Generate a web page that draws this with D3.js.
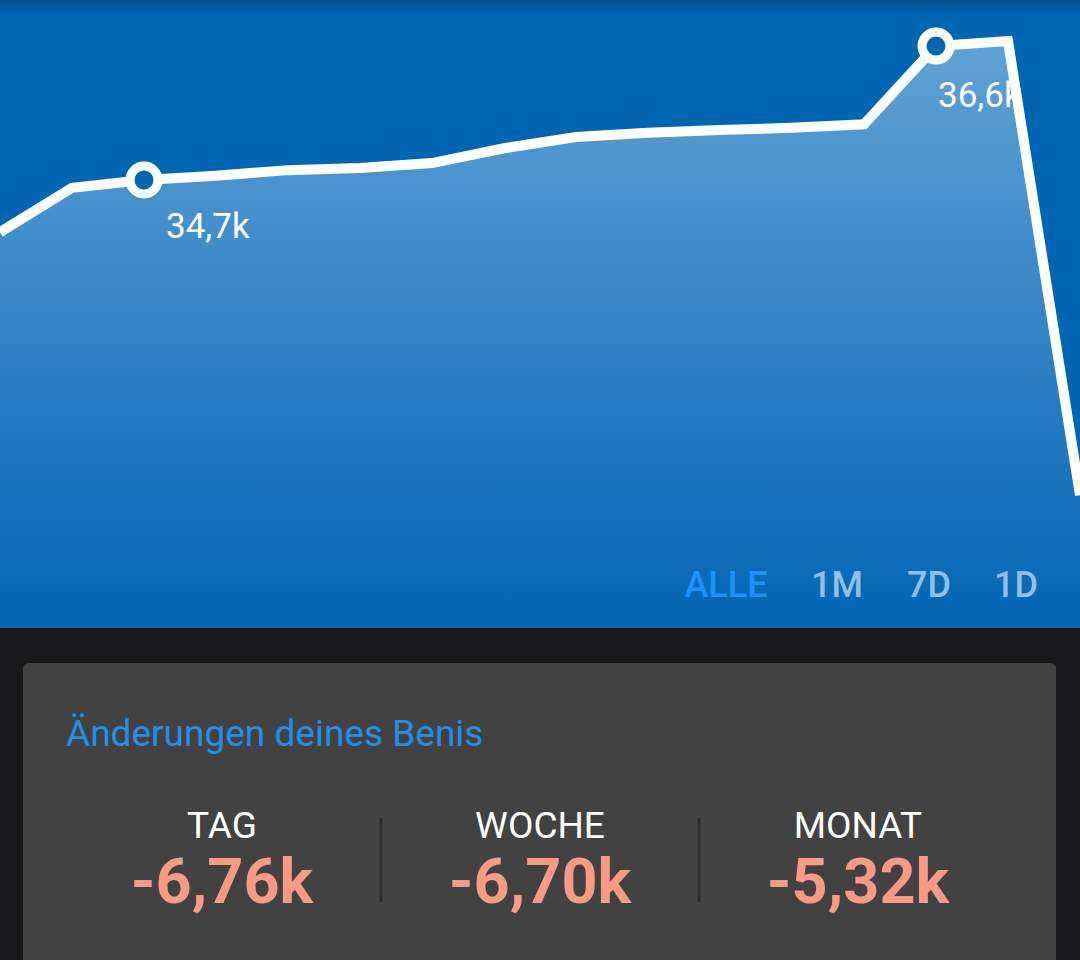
<!DOCTYPE html>
<html>
<head>
<meta charset="utf-8">
<script src="https://cdn.jsdelivr.net/npm/d3@7"></script>
<style>
  html, body { margin: 0; padding: 0; background: #18181a; }
  svg { display: block; font-family: Roboto, "Noto Sans", sans-serif; }
</style>
</head>
<body>
<div id="chart"></div>
<script>
var width = 1080, height = 960, chartHeight = 628;

// Benis history (thousands), one value per sample
var values = [33.96, 34.59, 34.70, 34.76, 34.84, 34.87, 34.94, 35.15, 35.31, 35.37, 35.41, 35.44, 35.49, 36.60, 36.67, 30.23];
var markerIdx = [2, 13];
var markerLabels = ["34,7k", "36,6k"];
var labelOffsets = [[22, 58], [2, 61]];

var ranges = ["ALLE", "1M", "7D", "1D"];
var rangeX = [726, 837, 929, 1016];

var statNames = ["TAG", "WOCHE", "MONAT"];
var statValues = ["-6,76k", "-6,70k", "-5,32k"];

var svg = d3.select("#chart").append("svg")
    .attr("width", width)
    .attr("height", height);

var defs = svg.append("defs");

var fillGrad = defs.append("linearGradient")
    .attr("id", "fillGrad")
    .attr("gradientUnits", "userSpaceOnUse")
    .attr("x1", 0).attr("y1", 40).attr("x2", 0).attr("y2", 600);
fillGrad.append("stop").attr("offset", "0%").attr("stop-color", "#5fa2d5");
fillGrad.append("stop").attr("offset", "45%").attr("stop-color", "#3a87c8");
fillGrad.append("stop").attr("offset", "100%").attr("stop-color", "#0668b4");

var topShade = defs.append("linearGradient")
    .attr("id", "topShade")
    .attr("x1", 0).attr("y1", 0).attr("x2", 0).attr("y2", 1);
topShade.append("stop").attr("offset", "0%").attr("stop-color", "#00508f");
topShade.append("stop").attr("offset", "100%").attr("stop-color", "#0066b4");

// chart background
svg.append("rect")
    .attr("width", width).attr("height", chartHeight)
    .attr("fill", "#0066b4");
svg.append("rect")
    .attr("width", width).attr("height", 14)
    .attr("fill", "url(#topShade)");

var x = d3.scaleLinear().domain([0, values.length - 1]).range([0, width]);
var y = d3.scaleLinear().domain([30, 37]).range([511.35, 17.85]);

var area = d3.area()
    .x(function(d, i) { return x(i); })
    .y0(chartHeight)
    .y1(function(d) { return y(d); });

var line = d3.line()
    .x(function(d, i) { return x(i); })
    .y(function(d) { return y(d); });

svg.append("path")
    .datum(values)
    .attr("d", area)
    .attr("fill", "url(#fillGrad)");

// marker labels (drawn under the line)
svg.selectAll(".mlabel")
    .data(markerIdx)
    .enter().append("text")
    .attr("class", "mlabel")
    .attr("x", function(d, i) { return x(d) + labelOffsets[i][0]; })
    .attr("y", function(d, i) { return y(values[d]) + labelOffsets[i][1]; })
    .attr("fill", "#ffffff")
    .style("font-size", "35px")
    .text(function(d, i) { return markerLabels[i]; });

svg.append("path")
    .datum(values)
    .attr("d", line)
    .attr("fill", "none")
    .attr("stroke", "#ffffff")
    .attr("stroke-width", 10)
    .attr("stroke-linejoin", "miter");

svg.selectAll(".marker")
    .data(markerIdx)
    .enter().append("circle")
    .attr("class", "marker")
    .attr("cx", function(d) { return x(d); })
    .attr("cy", function(d) { return y(values[d]); })
    .attr("r", 14)
    .attr("fill", "#0066b4")
    .attr("stroke", "#ffffff")
    .attr("stroke-width", 9);

// range buttons
svg.selectAll(".range")
    .data(ranges)
    .enter().append("text")
    .attr("class", "range")
    .attr("x", function(d, i) { return rangeX[i]; })
    .attr("y", 597)
    .attr("text-anchor", "middle")
    .attr("fill", function(d, i) { return i == 0 ? "#1e90ff" : "#8ec0ea"; })
    .style("font-size", "36px")
    .style("font-weight", 500)
    .text(function(d) { return d; });

// bottom card
svg.append("rect")
    .attr("x", 0).attr("y", chartHeight)
    .attr("width", width).attr("height", height - chartHeight)
    .attr("fill", "#18181a");
svg.append("rect")
    .attr("x", 23).attr("y", 663)
    .attr("width", 1033).attr("height", 330)
    .attr("rx", 6)
    .attr("fill", "#424242");

svg.append("text")
    .attr("x", 66).attr("y", 746)
    .attr("fill", "#2090e8")
    .style("font-size", "37px")
    .text("Änderungen deines Benis");

var colX = d3.scalePoint().domain(statNames).range([222, 858]);

svg.selectAll(".sep")
    .data([0, 1])
    .enter().append("line")
    .attr("x1", function(d) { return (colX(statNames[d]) + colX(statNames[d + 1])) / 2; })
    .attr("x2", function(d) { return (colX(statNames[d]) + colX(statNames[d + 1])) / 2; })
    .attr("y1", 818).attr("y2", 902)
    .attr("stroke", "#2e2e2e")
    .attr("stroke-width", 3);

svg.selectAll(".sname")
    .data(statNames)
    .enter().append("text")
    .attr("x", function(d) { return colX(d); })
    .attr("y", 838)
    .attr("text-anchor", "middle")
    .attr("fill", "#ffffff")
    .style("font-size", "37px")
    .text(function(d) { return d; });

svg.selectAll(".sval")
    .data(statValues)
    .enter().append("text")
    .attr("x", function(d, i) { return colX(statNames[i]); })
    .attr("y", 903)
    .attr("text-anchor", "middle")
    .attr("fill", "#f99a82")
    .style("font-size", "63px")
    .style("font-weight", 700)
    .text(function(d) { return d; });
</script>
</body>
</html>
